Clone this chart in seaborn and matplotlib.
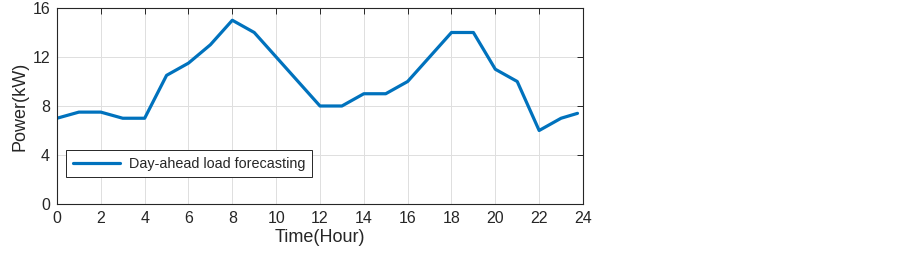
import matplotlib
matplotlib.use("Agg")
import matplotlib.pyplot as plt
import seaborn as sns
import pandas as pd

hours = [0, 1, 2, 3, 4, 5, 6, 7, 8, 9, 10, 11, 12, 13, 14, 15, 16, 17, 18, 19, 20, 21, 22, 23, 23.75]
power = [7, 7.5, 7.5, 7, 7, 10.5, 11.5, 13, 15, 14, 12, 10, 8, 8, 9, 9, 10, 12, 14, 14, 11, 10, 6, 7, 7.4]
x_ticks = list(range(0, 25, 2))
y_ticks = [0, 4, 8, 12, 16]

sns.set_style("whitegrid")
plt.rcParams["font.family"] = ["Liberation Sans", "DejaVu Sans"]

df = pd.DataFrame({"Time(Hour)": hours, "Power(kW)": power})

fig = plt.figure(figsize=(9.03, 2.62), dpi=100)
ax = fig.add_axes([0.0631, 0.2214, 0.5825, 0.7481])
sns.lineplot(data=df, x="Time(Hour)", y="Power(kW)", color="#0072BD", linewidth=2.3,
             label="Day-ahead load forecasting", ax=ax)

ax.set_xlim(0, 24)
ax.set_ylim(0, 16)
ax.set_xticks(x_ticks)
ax.set_yticks(y_ticks)
ax.grid(True, color="#dfdfdf", linewidth=0.7)
for s in ax.spines.values():
    s.set_color("#262626")
    s.set_linewidth(0.8)
ax.tick_params(direction="in", length=4, width=0.7, colors="#262626", labelsize=11.5,
               top=True, right=True, pad=5)
ax.set_xlabel("Time(Hour)", fontsize=13, color="#262626", labelpad=2)
ax.set_ylabel("Power(kW)", fontsize=13, color="#262626", labelpad=3)

leg = ax.legend(loc="lower left", bbox_to_anchor=(0.004, 0.10), fontsize=10.4,
                handlelength=3.3, handletextpad=0.6, fancybox=False, framealpha=1,
                borderpad=0.45)
leg.get_frame().set_edgecolor("#262626")
leg.get_frame().set_linewidth(0.7)

plt.savefig("out.png", dpi=100)
plt.close()
